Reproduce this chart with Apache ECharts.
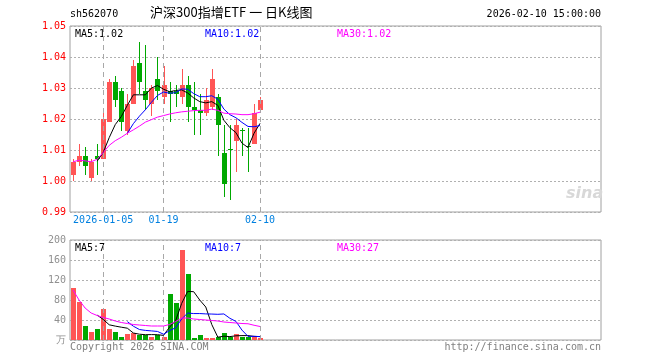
<!DOCTYPE html>
<html>
<head>
<meta charset="utf-8">
<script src="https://cdn.jsdelivr.net/npm/echarts@6/dist/echarts.min.js"></script>
<style>html,body{margin:0;padding:0;background:#fff;}#c{width:660px;height:360px;}</style>
</head>
<body>
<div id="c"></div>
<script>
// ---- data ----
const dates = ['2025-12-25','2025-12-26','2025-12-29','2025-12-30','2025-12-31',
  '2026-01-05','2026-01-06','2026-01-07','2026-01-08','2026-01-09',
  '2026-01-12','2026-01-13','2026-01-14','2026-01-15','2026-01-16',
  '2026-01-19','2026-01-20','2026-01-21','2026-01-22','2026-01-23',
  '2026-01-26','2026-01-27','2026-01-28','2026-01-29','2026-01-30',
  '2026-02-02','2026-02-03','2026-02-04','2026-02-05','2026-02-06',
  '2026-02-09','2026-02-10'];
const opens  = [1.002,1.006,1.008,1.001,1.008,1.007,1.019,1.032,1.029,1.016,1.025,1.038,1.029,1.025,1.033,1.027,1.029,1.029,1.027,1.031,1.024,1.023,1.022,1.024,1.027,1.009,1.0102,1.013,1.0164,1.0113,1.012,1.023];
const closes = [1.006,1.008,1.005,1.006,1.007,1.020,1.032,1.026,1.019,1.025,1.037,1.032,1.026,1.030,1.029,1.031,1.028,1.028,1.031,1.024,1.023,1.022,1.026,1.033,1.018,0.999,1.0099,1.018,1.0161,1.0109,1.022,1.026];
const lows   = [1.000,1.005,1.002,1.000,1.002,1.007,1.019,1.024,1.016,1.015,1.025,1.028,1.023,1.021,1.026,1.025,1.019,1.024,1.025,1.019,1.015,1.015,1.021,1.023,1.008,0.995,0.994,1.003,1.008,1.003,1.012,1.022];
const highs  = [1.007,1.012,1.011,1.007,1.012,1.022,1.033,1.034,1.030,1.028,1.039,1.045,1.044,1.031,1.040,1.037,1.032,1.031,1.036,1.034,1.032,1.028,1.030,1.036,1.028,1.018,1.018,1.020,1.017,1.017,1.025,1.027];
const ma5  = [null,null,null,null,1.0064,1.0092,1.0140,1.0182,1.0208,1.0244,1.0278,1.0278,1.0278,1.0300,1.0308,1.0296,1.0288,1.0292,1.0294,1.0284,1.0268,1.0256,1.0252,1.0256,1.0244,1.0196,1.0172,1.0156,1.0122,1.0108,1.0154,1.0186];
const ma10 = [null,null,null,null,null,null,null,null,null,1.0154,1.0185,1.0209,1.0230,1.0254,1.0276,1.0287,1.0283,1.0285,1.0297,1.0296,1.0282,1.0272,1.0272,1.0275,1.0264,1.0232,1.0214,1.0204,1.0189,1.0176,1.0175,1.0179];
const ma30 = [1.0062,1.0067,1.0065,1.0062,1.0070,1.0092,1.0115,1.0130,1.0141,1.0154,1.0165,1.0177,1.0190,1.0198,1.0206,1.0211,1.0216,1.0220,1.0223,1.0225,1.0227,1.0228,1.0228,1.0232,1.0228,1.0219,1.0217,1.0216,1.0214,1.0214,1.0217,1.0222];
const volumes = [105,76,29,17,22,62,22,16,6,12,14,10,11,7,11,7,93,74,180,132,4,10,4,4,6,14,6,12,6,6,6,4];
const volMa5  = [null,null,null,null,49.8,41.2,30.4,27.8,25.6,23.6,14,11.6,10.6,10.8,10.6,9.2,25.8,38.4,73,97.2,96.6,80,66,30.8,5.6,7.6,6.8,8.4,8.8,8.8,7.2,6.8];
const volMa10 = [null,null,null,null,null,null,null,null,null,36.7,27.6,21.0,19.2,18.2,17.1,11.6,18.7,24.5,41.9,53.9,52.9,52.9,52.2,51.9,51.4,52.1,43.4,37.2,19.8,7.2,7.4,6.8];
const volMa30 = [100,80,64,54,49,45,42,38,35,33,31,30,29,28,28,28,31,37,44,44,42,41,40,39,38,36,35,34,33,32.5,29.5,27];
const tickDates  = ['2026-01-05','2026-01-19','2026-02-10'];
const tickLabels = ['2026-01-05','01-19','02-10'];
const priceTicks = [0.99,1.00,1.01,1.02,1.03,1.04,1.05];
const volTicks = [0,40,80,120,160,200];
const totalSlots = 88;

// ---- build ----
const UP = '#ff5555', DOWN = '#00a800';
const cats = dates.slice();
for (let i = dates.length; i < totalSlots; i++) cats.push('pad' + i);
const kData = dates.map((d, i) => [i, opens[i], closes[i], lows[i], highs[i]]);
const vData = dates.map((d, i) => [i, volumes[i], closes[i] >= opens[i] ? 1 : 0]);
const nz = a => a.map(v => v == null ? '-' : v);
const mono = 'DejaVu Sans Mono';
const vlines = tickDates.map(d => ({xAxis: d}));
const mkLine = {symbol: ['none','none'], silent: true, label: {show: false}, animation: false,
  lineStyle: {color: '#a8a8a8', type: [5,4], width: 1}, data: vlines};

function renderCandle(params, api) {
  const i = api.value(0), o = api.value(1), c = api.value(2), l = api.value(3), h = api.value(4);
  const color = c >= o ? UP : DOWN;
  const x = Math.round(api.coord([i, o])[0]);
  const yO = api.coord([i, o])[1], yC = api.coord([i, c])[1];
  const yH = Math.round(api.coord([i, h])[1]), yL = Math.round(api.coord([i, l])[1]);
  const yT = Math.round(Math.min(yO, yC)), yB = Math.round(Math.max(yO, yC));
  return {type: 'group', children: [
    {type: 'rect', shape: {x: x, y: yH, width: 1, height: Math.max(1, yL - yH)}, style: {fill: color}},
    {type: 'rect', shape: {x: x - 2, y: yT, width: 5, height: Math.max(1, yB - yT)}, style: {fill: color}}
  ]};
}
function renderVol(params, api) {
  const i = api.value(0), v = api.value(1), up = api.value(2);
  const p = api.coord([i, v]), p0 = api.coord([i, 0]);
  const x = Math.round(p[0]);
  const yT = Math.round(p[1]), yB = Math.round(p0[1]);
  return {type: 'rect', shape: {x: x - 2, y: yT, width: 5, height: Math.max(1, yB - yT)}, style: {fill: up ? UP : DOWN}};
}

const chart = echarts.init(document.getElementById('c'), null, {renderer: 'canvas'});
const lineS = (name, data, color, xi, yi) => ({name, type: 'line', data: nz(data), xAxisIndex: xi, yAxisIndex: yi,
  showSymbol: false, symbol: 'none', smooth: false, lineStyle: {color, width: 1}, itemStyle: {color}, z: 5, silent: true});

chart.setOption({
  animation: false,
  backgroundColor: '#ffffff',
  grid: [
    {left: 70, right: 59, top: 26, height: 186, show: true, borderColor: '#a0a0a0', borderWidth: 1, backgroundColor: 'transparent'},
    {left: 70, right: 59, top: 240, height: 100, show: true, borderColor: '#a0a0a0', borderWidth: 1, backgroundColor: 'transparent'}
  ],
  xAxis: [
    {type: 'category', gridIndex: 0, data: cats, boundaryGap: true,
      axisLine: {show: false}, axisTick: {show: false}, splitLine: {show: false},
      axisLabel: {show: true, margin: 3, color: '#0080e0', fontFamily: mono, fontSize: 10,
        interval: (i, v) => tickDates.indexOf(v) >= 0,
        formatter: v => { const k = tickDates.indexOf(v); return k >= 0 ? tickLabels[k] : ''; }}},
    {type: 'category', gridIndex: 1, data: cats, boundaryGap: true,
      axisLine: {show: false}, axisTick: {show: false}, splitLine: {show: false}, axisLabel: {show: false}}
  ],
  yAxis: [
    {type: 'value', gridIndex: 0, min: 0.99, max: 1.05, interval: 0.01,
      axisLine: {show: false}, axisTick: {show: false},
      axisLabel: {color: '#ff0000', fontFamily: mono, fontSize: 10, margin: 4,
        formatter: v => { const p = priceTicks.find(t => Math.abs(t - v) < 1e-6); return p != null ? p.toFixed(2) : ''; }},
      splitLine: {show: true, lineStyle: {color: '#b0b0b0', type: [2,2], width: 1}}},
    {type: 'value', gridIndex: 1, min: 0, max: 200, interval: 40,
      axisLine: {show: false}, axisTick: {show: false},
      axisLabel: {color: '#909090', fontFamily: mono, fontSize: 10, margin: 4,
        formatter: v => v === 0 ? '万' : (volTicks.indexOf(v) >= 0 ? String(v) : '')},
      splitLine: {show: true, lineStyle: {color: '#b0b0b0', type: [2,2], width: 1}}}
  ],
  series: [
    {name: 'K', type: 'custom', xAxisIndex: 0, yAxisIndex: 0, data: kData, renderItem: renderCandle,
      encode: {x: 0, y: [1, 2, 3, 4]}, markLine: mkLine, z: 3, silent: true},
    lineS('MA5', ma5, '#000000', 0, 0),
    lineS('MA10', ma10, '#0000ff', 0, 0),
    lineS('MA30', ma30, '#ff00ff', 0, 0),
    {name: 'VOL', type: 'custom', xAxisIndex: 1, yAxisIndex: 1, data: vData, renderItem: renderVol,
      encode: {x: 0, y: 1}, markLine: mkLine, z: 3, silent: true},
    lineS('VMA5', volMa5, '#000000', 1, 1),
    lineS('VMA10', volMa10, '#0000ff', 1, 1),
    lineS('VMA30', volMa30, '#ff00ff', 1, 1)
  ],
  graphic: [
    {type: 'text', left: 70, top: 9, style: {text: 'sh562070', font: '10px "' + mono + '"', fill: '#000'}},
    {type: 'text', left: 150, top: 6, style: {text: '沪深300指增ETF 一 日K线图', font: '13px "Noto Sans CJK SC"', fill: '#000'}},
    {type: 'text', right: 59, top: 9, style: {text: '2026-02-10 15:00:00', font: '10px "' + mono + '"', fill: '#000'}},
    {type: 'text', left: 75, top: 29, style: {text: 'MA5:1.02', font: '10px "' + mono + '"', fill: '#000'}},
    {type: 'text', left: 205, top: 29, style: {text: 'MA10:1.02', font: '10px "' + mono + '"', fill: '#0000ff'}},
    {type: 'text', left: 337, top: 29, style: {text: 'MA30:1.02', font: '10px "' + mono + '"', fill: '#ff00ff'}},
    {type: 'text', left: 75, top: 243, style: {text: 'MA5:7', font: '10px "' + mono + '"', fill: '#000'}},
    {type: 'text', left: 205, top: 243, style: {text: 'MA10:7', font: '10px "' + mono + '"', fill: '#0000ff'}},
    {type: 'text', left: 337, top: 243, style: {text: 'MA30:27', font: '10px "' + mono + '"', fill: '#ff00ff'}},
    {type: 'text', left: 70, top: 342, style: {text: 'Copyright 2026 SINA.COM', font: '10px "' + mono + '"', fill: '#808080'}},
    {type: 'text', right: 59, top: 342, style: {text: 'http://finance.sina.com.cn', font: '10px "' + mono + '"', fill: '#808080'}},
    {type: 'text', left: 566, top: 186, style: {text: 'sina', font: 'italic bold 16px "DejaVu Sans"', fill: '#d8d8d8'}}
  ]
});
</script>
</body>
</html>
